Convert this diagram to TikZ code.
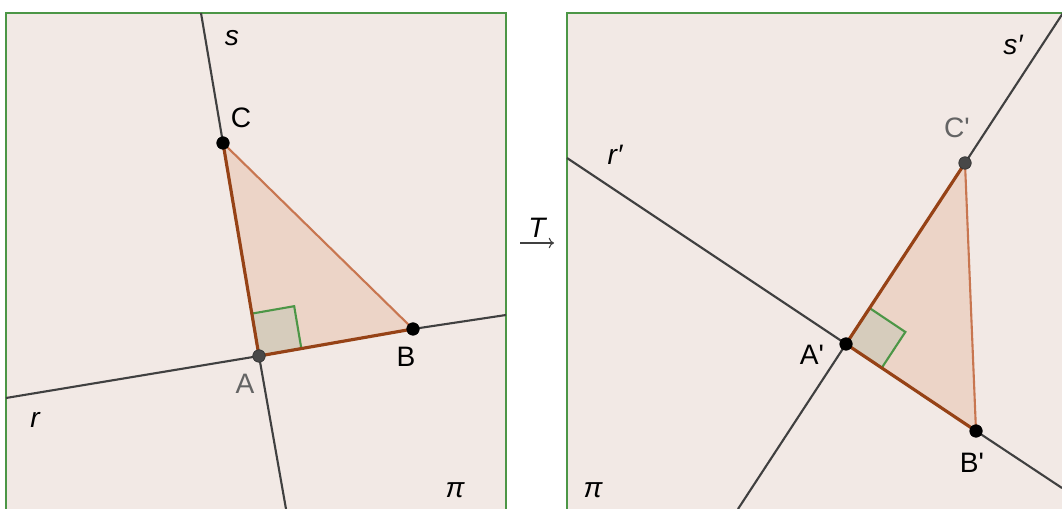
\documentclass[tikz,border=0pt]{standalone}
\usepackage{fontspec}
\setmainfont{Liberation Sans}[Ligatures=TeXOff]
\usetikzlibrary{calc,arrows.meta}
\begin{document}
\begin{tikzpicture}[x=0.02cm,y=-0.02cm,
  panel/.style={fill=paper, draw=frame, line width=1.4pt},
  gline/.style={draw=lineg, line width=1.2pt},
  darkedge/.style={draw=brownd, line width=1.8pt},
  lightedge/.style={draw=brownl, line width=1.2pt},
  tri/.style={fill=trifill},
  rmark/.style={draw=frame, fill=markfill, line width=1.2pt},
  pt/.style={circle, fill=black, draw=black, inner sep=0pt, minimum size=0.25cm},
  gpt/.style={circle, fill=ptgrey, draw=black!80, inner sep=0pt, minimum size=0.25cm},
  lab/.style={font=\fontsize{16}{18}\selectfont, inner sep=0pt},
  glab/.style={lab, text=labgrey}
]
\definecolor{paper}{RGB}{242,233,229}
\definecolor{frame}{RGB}{76,150,70}
\definecolor{lineg}{RGB}{64,64,64}
\definecolor{brownd}{RGB}{150,66,22}
\definecolor{brownl}{RGB}{200,118,80}
\definecolor{trifill}{RGB}{236,212,199}
\definecolor{markfill}{RGB}{214,204,188}
\definecolor{ptgrey}{RGB}{72,72,72}
\definecolor{labgrey}{RGB}{100,100,100}
\useasboundingbox (0,0) rectangle (1062,509);
\clip (0,0) rectangle (1062,509);
% panels
\fill[white] (0,0) rectangle (1062,509);
\draw[panel] (6,13) rectangle (506,530);
\draw[panel] (567,13) rectangle (1080,530);

% ---------- left panel ----------
\coordinate (A) at (259,356);
\coordinate (B) at (413,329);
\coordinate (C) at (223,143);
\coordinate (sTop) at (201,13);
\coordinate (sBot) at (286,509);
\coordinate (rL) at (6,398);
\coordinate (rR) at (506,315);
\coordinate (m1) at ($(A)!0.86cm!(B)$);
\coordinate (m3) at ($(A)!0.86cm!(C)$);
\coordinate (m2) at ($(m1)+(m3)-(A)$);
\fill[tri] (A) -- (B) -- (C) -- cycle;
\draw[gline] (sTop) -- (C);
\draw[gline] (A) -- (sBot);
\draw[gline] (rL) -- (A);
\draw[gline] (B) -- (rR);
\draw[rmark] (A) -- (m1) -- (m2) -- (m3) -- cycle;
\draw[lightedge] (B) -- (C);
\draw[darkedge] (C) -- (A) -- (B);
\node[pt] (nC) at (C) {};
\node[gpt] (nA) at (A) {};
\node[pt] (nB) at (B) {};
\node[lab] (ls) at (232,38) {\itshape s};
\node[lab] (lC) at (241,118) {C};
\node[glab] (lA) at (245,384) {A};
\node[lab] (lB) at (406,357) {B};
\node[lab] (lr) at (35,420) {\itshape r};
\node[lab] (lpi) at (455,490) {\itshape π};

% ---------- transformation arrow ----------
\node[lab] (T) at (537,228) {\itshape T};
\coordinate (arL) at (520,243);
\coordinate (arR) at (554,243);
\draw[line width=0.6pt, draw=lineg, -{To[length=3pt,width=6pt]}] (arL) -- (arR);

% ---------- right panel ----------
\coordinate (A') at (846,344);
\coordinate (B') at (976,431);
\coordinate (C') at (965,163);
\coordinate (rpL) at (567,158);
\coordinate (rpR) at (1062,488);
\coordinate (spTop) at (1063,13);
\coordinate (spBot) at (738,509);
\coordinate (n1) at ($(A')!0.86cm!(B')$);
\coordinate (n3) at ($(A')!0.86cm!(C')$);
\coordinate (n2) at ($(n1)+(n3)-(A')$);
\fill[tri] (A') -- (B') -- (C') -- cycle;
\draw[gline] (rpL) -- (A');
\draw[gline] (B') -- (rpR);
\draw[gline] (C') -- (spTop);
\draw[gline] (A') -- (spBot);
\draw[rmark] (A') -- (n1) -- (n2) -- (n3) -- cycle;
\draw[lightedge] (B') -- (C');
\draw[darkedge] (C') -- (A') -- (B');
\node[pt] (nA') at (A') {};
\node[pt] (nB') at (B') {};
\node[gpt] (nC') at (C') {};
\node[lab] (lsp) at (1013,45) {\itshape s′};
\node[glab] (lCp) at (957,128) {C'};
\node[lab] (lrp) at (615,155) {\itshape r′};
\node[lab] (lAp) at (812,355) {A'};
\node[lab] (lBp) at (972,463) {B'};
\node[lab] (lpip) at (593,490) {\itshape π};
\end{tikzpicture}
\end{document}
